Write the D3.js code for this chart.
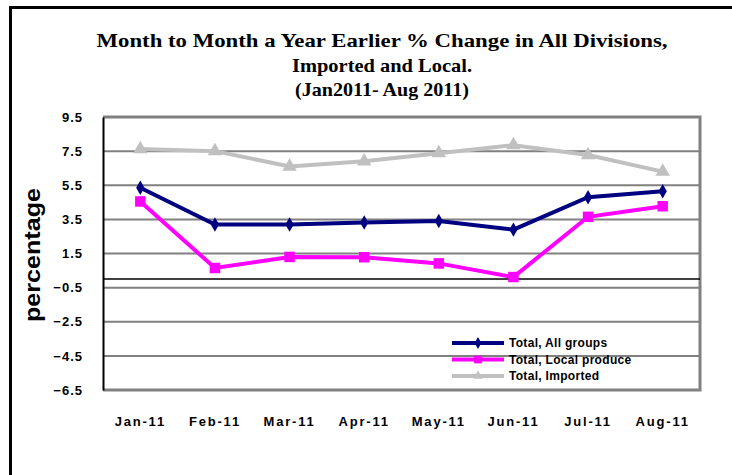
<!DOCTYPE html>
<html><head><meta charset="utf-8">
<script src="https://cdn.jsdelivr.net/npm/d3@7"></script>
<style>body{margin:0;background:#fff;}svg{display:block;}</style>
</head><body>
<script>
const months = ["Jan-11","Feb-11","Mar-11","Apr-11","May-11","Jun-11","Jul-11","Aug-11"];
const allGroups = [5.35, 3.2, 3.2, 3.32, 3.4, 2.9, 4.8, 5.15];
const localProduce = [4.55, 0.65, 1.3, 1.28, 0.92, 0.12, 3.65, 4.27];
const imported = [7.62, 7.5, 6.6, 6.9, 7.38, 7.85, 7.27, 6.3];
const yTicks = [9.5, 7.5, 5.5, 3.5, 1.5, -0.5, -2.5, -4.5, -6.5];
const seriesNames = ["Total, All groups","Total, Local produce","Total, Imported"];
const titleLines = ["Month to Month a Year Earlier % Change in All Divisions,","Imported and Local.","(Jan2011- Aug 2011)"];
const titleWidths = [571, 180, 174];

const W = 732, H = 475;
const svg = d3.select("body").append("svg").attr("width", W).attr("height", H);

// outer frame
svg.append("path").attr("d", "M10.5,475 V7.5 H732").attr("fill","none").attr("stroke","#000").attr("stroke-width",3);

const L = 103, R = 700, T = 117, B = 390;
const x = d3.scaleBand().domain(months).range([L, R]);
const y = d3.scaleLinear().domain([-6.5, 9.5]).range([B, T]);

// title
svg.append("g").selectAll("text").data(titleLines).join("text")
  .attr("x", 382).attr("y", (d,i) => 47 + i*24.5)
  .attr("text-anchor","middle")
  .attr("font-family","'Liberation Serif','Times New Roman',serif")
  .attr("font-weight","bold").attr("font-size", 19).attr("fill","#000")
  .attr("textLength", (d,i) => titleWidths[i]).attr("lengthAdjust","spacingAndGlyphs")
  .text(d => d);

// grid
svg.append("g").selectAll("line").data(yTicks).join("line")
  .attr("x1", L).attr("x2", R).attr("y1", d => y(d)).attr("y2", d => y(d))
  .attr("stroke","#808080").attr("stroke-width",2);

// plot border (gray top/right/bottom)
svg.append("path").attr("d", `M${L},${T} H${R} V${B} H${L}`).attr("fill","none").attr("stroke","#808080").attr("stroke-width",3);

// zero line
svg.append("line").attr("x1", L).attr("x2", R).attr("y1", y(0)).attr("y2", y(0)).attr("stroke","#000").attr("stroke-width",1.5);

// y axis
const yAxis = d3.axisLeft(y).tickValues(yTicks).tickSize(0).tickPadding(20).tickFormat(d3.format(".1f"));
const ga = svg.append("g").attr("transform", `translate(${L},0)`).call(yAxis);
ga.select(".domain").attr("stroke","#000").attr("stroke-width",2);
ga.selectAll("text").attr("font-family","Arial,'Liberation Sans',sans-serif").attr("font-weight","bold").attr("font-size",13).attr("letter-spacing","1px").attr("fill","#000");

// x axis labels
const xAxis = d3.axisBottom(x).tickSize(0).tickPadding(27);
const gx = svg.append("g").attr("transform", `translate(0,${B})`).call(xAxis);
gx.select(".domain").remove();
gx.selectAll("text").attr("font-family","Arial,'Liberation Sans',sans-serif").attr("font-weight","bold").attr("font-size",13).attr("letter-spacing","1.8px").attr("fill","#000");

// y title
svg.append("text").attr("transform","translate(40,255) rotate(-90)")
  .attr("text-anchor","middle")
  .attr("font-family","Arial,'Liberation Sans',sans-serif")
  .attr("font-weight","bold").attr("font-size",22).attr("fill","#000")
  .attr("textLength",134).attr("lengthAdjust","spacingAndGlyphs")
  .text("percentage");

const cx = d => x(d) + x.bandwidth()/2;
const series = [
  {name: seriesNames[2], vals: imported, color:"#c0c0c0", sym: d3.symbolTriangle, size: 90},
  {name: seriesNames[0], vals: allGroups, color:"#000080", sym: d3.symbolDiamond, size: 60},
  {name: seriesNames[1], vals: localProduce, color:"#ff00ff", sym: d3.symbolSquare, size: 110}
];
const line = d3.line().x((d,i) => cx(months[i])).y(d => y(d));
series.forEach(s => {
  svg.append("path").datum(s.vals).attr("d", line).attr("fill","none").attr("stroke", s.color).attr("stroke-width",4);
  svg.append("g").selectAll("path").data(s.vals).join("path")
    .attr("transform",(d,i) => `translate(${cx(months[i])},${y(d)})`)
    .attr("d", d3.symbol().type(s.sym).size(s.size)).attr("fill", s.color);
});

// legend
const legendOrder = [
  {name: seriesNames[0], color:"#000080", sym: d3.symbolDiamond, size: 40},
  {name: seriesNames[1], color:"#ff00ff", sym: d3.symbolSquare, size: 60},
  {name: seriesNames[2], color:"#c0c0c0", sym: d3.symbolTriangle, size: 40}
];
const lg = svg.append("g").selectAll("g").data(legendOrder).join("g")
  .attr("transform",(d,i) => `translate(452,${343 + i*16.5})`);
lg.append("line").attr("x1",0).attr("x2",52).attr("stroke", d => d.color).attr("stroke-width",4);
lg.append("path").attr("transform","translate(26,0)").attr("d", d => d3.symbol().type(d.sym).size(d.size)()).attr("fill", d => d.color);
lg.append("text").attr("x",57).attr("y",4)
  .attr("font-family","Arial,'Liberation Sans',sans-serif").attr("font-weight","bold").attr("font-size",12).attr("letter-spacing","0.3px").attr("fill","#000")
  .text(d => d.name);
</script>
</body></html>
